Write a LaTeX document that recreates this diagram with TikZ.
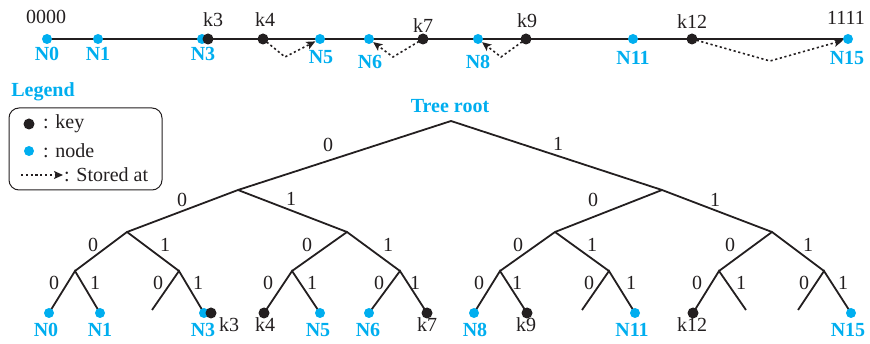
\documentclass[tikz,border=0pt]{standalone}
\usepackage{fontspec}
\setmainfont{Liberation Serif}
\usetikzlibrary{arrows.meta}
\definecolor{nblue}{RGB}{0,174,239}
\definecolor{kblack}{RGB}{35,31,32}
\pgfdeclarelayer{bg}
\pgfsetlayers{bg,main}
\begin{document}
\begin{tikzpicture}[x=1pt,y=-1pt,
  txt/.style={font=\fontsize{20}{24}\selectfont, inner sep=0pt, text=kblack},
  nlab/.style={font=\fontsize{20}{24}\selectfont\bfseries, inner sep=0pt, text=nblue},
  bdot/.style={circle, fill=nblue, inner sep=0pt, minimum size=10pt},
  kdot/.style={circle, fill=kblack, inner sep=0pt, minimum size=11pt},
  treeedge/.style={line width=1.8pt, draw=kblack},
  stored/.style={line width=1.6pt, dash pattern=on 2.2pt off 2.6pt, draw=kblack,
                 -{Stealth[length=9pt,width=8pt,inset=2pt]}},
]
\useasboundingbox (0,0) rectangle (870,344);

% ---------- top identifier line ----------
\node[bdot] (tN0)  at (47,39) {};
\node[bdot] (tN1)  at (98,39) {};
\node[bdot] (tN3)  at (202,39) {};
\node[kdot] (tk3)  at (208,39) {};
\node[kdot] (tk4)  at (263,39) {};
\node[bdot] (tN5)  at (320,39) {};
\node[bdot] (tN6)  at (369,39) {};
\node[kdot] (tk7)  at (423,39) {};
\node[bdot] (tN8)  at (478,39) {};
\node[kdot] (tk9)  at (526,39) {};
\node[bdot] (tN11) at (633,39) {};
\node[kdot] (tk12) at (692,39) {};
\node[bdot] (tN15) at (848,39) {};
\begin{pgfonlayer}{bg}
  \draw[line width=1.5pt, kblack] (tN0.center) -- (tN15.center);
\end{pgfonlayer}

\node[txt] (l0000) at (46,17) {0000};
\node[txt] (l1111) at (846,18) {1111};
\node[txt] (ltk3)  at (213,20) {k3};
\node[txt] (ltk4)  at (265,20) {k4};
\node[txt] (ltk7)  at (423,26) {k7};
\node[txt] (ltk9)  at (527,21) {k9};
\node[txt] (ltk12) at (692,22) {k12};

\node[nlab] (ltN0)  at (47,54) {N0};
\node[nlab] (ltN1)  at (98,54) {N1};
\node[nlab] (ltN3)  at (203,54) {N3};
\node[nlab] (ltN5)  at (321,57) {N5};
\node[nlab] (ltN6)  at (370,62) {N6};
\node[nlab] (ltN8)  at (478,62) {N8};
\node[nlab] (ltN11) at (633,58) {N11};
\node[nlab] (ltN15) at (847,58) {N15};

\coordinate (v4)  at (285,57);
\coordinate (v7)  at (393,57);
\coordinate (v9)  at (501,57);
\coordinate (v12) at (770,61);
\draw[stored] (tk4.center) -- (v4) -- (tN5);
\draw[stored] (tk7.center) -- (v7) -- (tN6);
\draw[stored] (tk9.center) -- (v9) -- (tN8);
\draw[stored] (tk12.center) -- (v12) -- (tN15);

% ---------- legend ----------
\node[nlab] (legtitle) at (43,92) {Legend};
\node[draw=kblack, line width=1pt, rounded corners=10pt, minimum width=153pt,
      minimum height=82pt, inner sep=0pt] (legbox) at (85.5,149) {};
\node[kdot] (legk) at (29,124) {};
\node[txt, anchor=west] (legkt) at (43,124) {: key};
\node[bdot] (legn) at (29,151) {};
\node[txt, anchor=west] (legnt) at (43,151) {: node};
\coordinate (legas) at (21,175);
\coordinate (legae) at (63,175);
\draw[stored] (legas) -- (legae);
\node[txt, anchor=west] (legst) at (64,175) {: Stored at};

% ---------- tree ----------
\node[nlab] (rootlab) at (450,106) {Tree root};
\coordinate (r)    at (451,121);
\coordinate (a0)   at (238,190);
\coordinate (a1)   at (662,190);
\coordinate (b00)  at (127,232);
\coordinate (b01)  at (347,232);
\coordinate (b10)  at (555,232);
\coordinate (b11)  at (772,232);
\coordinate (c000) at (75,271);
\coordinate (c001) at (179,271);
\coordinate (c010) at (292,271);
\coordinate (c011) at (400,271);
\coordinate (c100) at (500,271);
\coordinate (c101) at (609,271);
\coordinate (c110) at (719,271);
\coordinate (c111) at (824,271);

\node[bdot] (N0)  at (49,313) {};
\node[bdot] (N1)  at (100,313) {};
\coordinate (e0010) at (152,310);
\node[bdot] (N3)  at (204,313) {};
\node[kdot] (k3)  at (211,313) {};
\node[kdot] (k4)  at (264,313) {};
\node[bdot] (N5)  at (320,313) {};
\node[bdot] (N6)  at (369,313) {};
\node[kdot] (k7)  at (427,313) {};
\node[bdot] (N8)  at (474,313) {};
\node[kdot] (k9)  at (527,313) {};
\coordinate (e1010) at (582,310);
\node[bdot] (N11) at (635,313) {};
\node[kdot] (k12) at (693,313) {};
\coordinate (e1101) at (746,310);
\coordinate (e1110) at (798,310);
\node[bdot] (N15) at (851,313) {};

\begin{pgfonlayer}{bg}
\draw[treeedge] (a0) -- (r) -- (a1);
\draw[treeedge] (b00) -- (a0) -- (b01);
\draw[treeedge] (b10) -- (a1) -- (b11);
\draw[treeedge] (c000) -- (b00) -- (c001);
\draw[treeedge] (c010) -- (b01) -- (c011);
\draw[treeedge] (c100) -- (b10) -- (c101);
\draw[treeedge] (c110) -- (b11) -- (c111);
\draw[treeedge] (N0.center) -- (c000) -- (N1.center);
\draw[treeedge] (e0010) -- (c001) -- (N3.center);
\draw[treeedge] (k4.center) -- (c010) -- (N5.center);
\draw[treeedge] (N6.center) -- (c011) -- (k7.center);
\draw[treeedge] (N8.center) -- (c100) -- (k9.center);
\draw[treeedge] (e1010) -- (c101) -- (N11.center);
\draw[treeedge] (k12.center) -- (c110) -- (e1101);
\draw[treeedge] (e1110) -- (c111) -- (N15.center);
\end{pgfonlayer}

% edge labels
\foreach \x/\y/\t [count=\i] in {
  328/145/0, 558/144/1,
  182/200/0, 291/199/1, 593/200/0, 715/200/1,
  93/245/0, 165/245/1, 307/245/0, 388/245/1, 518/245/0, 592/245/1, 730/245/0, 808/245/1,
  54/283/0, 95/283/1, 158/283/0, 198/283/1, 268/283/0, 312/283/1, 379/283/0, 415/283/1,
  479/283/0, 517/283/1, 589/283/0, 631/283/1, 697/283/0, 741/283/1, 804/283/0, 843/283/1}
  \node[txt] (bit\i) at (\x,\y) {\t};

% leaf labels
\node[nlab] (lN0)  at (46,330) {N0};
\node[nlab] (lN1)  at (100,330) {N1};
\node[nlab] (lN3)  at (203,330) {N3};
\node[txt]  (lk3)  at (229,325) {k3};
\node[txt]  (lk4)  at (265,325) {k4};
\node[nlab] (lN5)  at (318,330) {N5};
\node[nlab] (lN6)  at (368,330) {N6};
\node[txt]  (lk7)  at (427,325) {k7};
\node[nlab] (lN8)  at (475,330) {N8};
\node[txt]  (lk9)  at (526,325) {k9};
\node[nlab] (lN11) at (632,330) {N11};
\node[txt]  (lk12) at (692,325) {k12};
\node[nlab] (lN15) at (848,330) {N15};
\end{tikzpicture}
\end{document}
